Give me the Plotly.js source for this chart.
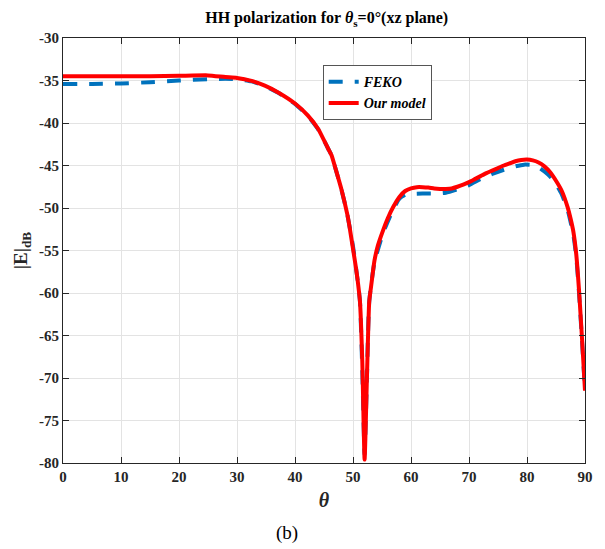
<!DOCTYPE html>
<html>
<head>
<meta charset="utf-8">
<script src="https://cdn.plot.ly/plotly-3.0.1.min.js"></script>
<style>html,body{margin:0;padding:0;background:#fff;}#chart{width:605px;height:549px;}</style>
</head>
<body>
<div id="chart"></div>
<script>
// FEKO reference (dashed blue)
const fekoTheta = [0,5,10,15,20,25,28,30,32.5,34.8,37.1,40,42.2,44,45.7,46.3,47,48,49,50,50.8,51.2,51.6,52.0,52.4,52.8,53.7,55.2,56.9,58,59,60,62,64,66,68,70,72,74,76,78,79.5,81,82,83,84,85,86,87,88,88.5,89,89.5,90];
const fekoDb = [-35.4,-35.4,-35.35,-35.2,-35.0,-34.85,-34.8,-34.85,-35.1,-35.65,-36.45,-37.75,-39.15,-40.75,-43.0,-43.8,-45.4,-47.8,-50.7,-54.5,-58.5,-61,-69,-79,-70,-61,-56.4,-52.9,-50.2,-48.9,-48.45,-48.35,-48.3,-48.3,-48.2,-47.8,-47.3,-46.6,-46.0,-45.5,-45.1,-44.9,-44.95,-45.2,-45.7,-46.3,-47.2,-48.4,-50.2,-53.2,-55.8,-60.3,-65.8,-71.5];
// Our model (solid red)
const modelTheta = [0,5,10,15,20,25,28,30,32.5,34.8,37.1,40,42.2,44,45.7,46.3,47,48,49,49.4,50,50.5,50.8,51.2,51.6,52.0,52.4,52.8,53.2,53.7,54.3,55.2,56,57,58,59,60,61,62,63,64,65,66,67,68,69,70,71,72,73,74,75,76,77,78,79,80,81,82,83,84,85,86,87,87.5,88,88.5,89,89.5,90];
const modelDb = [-34.5,-34.5,-34.5,-34.5,-34.45,-34.4,-34.6,-34.7,-35.05,-35.6,-36.4,-37.7,-39.1,-40.7,-43.0,-43.8,-45.4,-47.8,-50.7,-52.2,-54.8,-57,-58.5,-61,-68,-79.6,-70,-61,-58.8,-56.2,-54.4,-52.6,-51.2,-49.8,-48.7,-48.0,-47.7,-47.55,-47.55,-47.6,-47.7,-47.75,-47.75,-47.7,-47.5,-47.25,-46.95,-46.6,-46.25,-45.9,-45.6,-45.3,-45.0,-44.75,-44.5,-44.35,-44.3,-44.4,-44.65,-45.1,-45.8,-46.8,-48.0,-49.9,-51.2,-52.8,-55.5,-60,-65.5,-71.5];
const xTicks = [0,10,20,30,40,50,60,70,80,90];
const yTicks = [-80,-75,-70,-65,-60,-55,-50,-45,-40,-35,-30];

const serif = 'Liberation Serif';
const traces = [
  {x: fekoTheta, y: fekoDb, mode: 'lines', name: 'FEKO',
   line: {color: '#0072BD', width: 4, dash: '14px,12px', shape: 'spline', smoothing: 0.5}},
  {x: modelTheta, y: modelDb, mode: 'lines', name: 'Our model',
   line: {color: '#FF0000', width: 4, shape: 'spline', smoothing: 0.5}}
];
const axisCommon = {
  showline: true, linecolor: '#262626', linewidth: 1, mirror: 'ticks',
  ticks: 'inside', ticklen: 6, tickcolor: '#262626',
  showgrid: true, gridcolor: '#e3e3e3', gridwidth: 1, zeroline: false,
  tickfont: {family: serif, size: 15, color: '#262626', weight: 'bold'}
};
const layout = {
  width: 605, height: 549,
  margin: {l: 63, r: 20, t: 38, b: 86},
  paper_bgcolor: '#fff', plot_bgcolor: '#fff',
  showlegend: true,
  title: {text: 'HH polarization for <i>θ</i><sub>s</sub>=0°(xz plane)',
          font: {family: serif, size: 16, color: '#000', weight: 'bold'},
          x: 0.54, xref: 'container', y: 0.968, yref: 'container', yanchor: 'middle'},
  xaxis: Object.assign({}, axisCommon, {
    range: [0, 90], tickvals: xTicks, ticktext: xTicks.map(String),
    title: {text: '<i>θ</i>', font: {family: serif, size: 20, color: '#262626', weight: 'bold'}, standoff: 8}
  }),
  yaxis: Object.assign({}, axisCommon, {
    range: [-80, -30], tickvals: yTicks, ticktext: yTicks.map(String),
    title: {text: '|E|<sub>dB</sub>', font: {family: serif, size: 19, color: '#262626', weight: 'bold'}, standoff: 6}
  }),
  legend: {x: 0.4975, y: 0.936, xanchor: 'left', yanchor: 'top',
           bgcolor: '#fff', bordercolor: '#555', borderwidth: 1,
           font: {family: serif, size: 14, color: '#000', weight: 'bold', style: 'italic'},
           tracegroupgap: 0, itemwidth: 30, valign: 'middle'},
  annotations: [{text: '(b)', xref: 'paper', yref: 'paper', x: 0.4285, y: -0.165,
                 xanchor: 'center', yanchor: 'middle',
                 showarrow: false, font: {family: serif, size: 19, color: '#000'}}]
};
Plotly.newPlot('chart', traces, layout, {displayModeBar: false, staticPlot: true});
</script>
</body>
</html>
